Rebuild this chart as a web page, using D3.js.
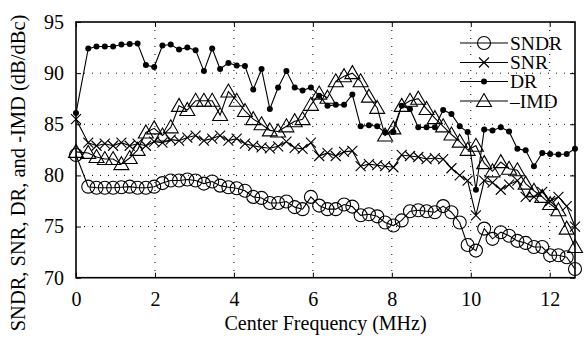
<!DOCTYPE html>
<html><head><meta charset="utf-8">
<script src="https://cdn.jsdelivr.net/npm/d3@7/dist/d3.min.js"></script>
<style>
html,body{margin:0;padding:0;background:#fff;}
svg text{font-family:"Liberation Serif","Times New Roman",serif;fill:#000;}
</style></head>
<body>
<svg id="chart" width="584" height="339"></svg>
<script>
const freq = [0, 0.31, 0.52, 0.73, 0.94, 1.15, 1.36, 1.56, 1.77, 1.98, 2.19, 2.40, 2.61, 2.82, 3.03, 3.24, 3.45, 3.65, 3.86, 4.07, 4.28, 4.49, 4.70, 4.91, 5.12, 5.33, 5.54, 5.74, 5.95, 6.16, 6.37, 6.58, 6.79, 7.00, 7.21, 7.42, 7.63, 7.83, 8.04, 8.25, 8.46, 8.67, 8.88, 9.09, 9.30, 9.51, 9.72, 9.92, 10.13, 10.34, 10.55, 10.76, 10.97, 11.18, 11.39, 11.60, 11.81, 12.01, 12.22, 12.43, 12.64];
const sndr = [82.0, 78.9, 78.8, 78.8, 78.8, 78.85, 78.9, 78.8, 78.8, 78.9, 79.25, 79.5, 79.5, 79.6, 79.5, 79.2, 79.4, 79.0, 78.85, 78.75, 78.5, 77.9, 77.8, 77.3, 77.3, 77.45, 76.9, 76.7, 77.9, 77.05, 76.7, 76.7, 77.15, 76.95, 76.1, 76.2, 76.0, 75.4, 75.1, 75.6, 76.5, 76.6, 76.5, 76.4, 77.0, 76.4, 75.4, 73.2, 72.65, 74.8, 73.8, 74.45, 74.1, 73.6, 73.4, 73.0, 73.0, 72.2, 72.2, 72.0, 70.85];
const snr = [85.5, 83.2, 82.9, 83.1, 82.9, 83.2, 82.9, 83.1, 82.9, 83.3, 83.2, 83.5, 83.4, 83.7, 83.9, 83.4, 83.6, 83.9, 83.4, 83.6, 83.1, 82.9, 82.75, 82.65, 82.85, 83.3, 82.7, 82.6, 83.2, 81.9, 82.2, 81.9, 82.3, 82.4, 80.9, 81.1, 81.0, 80.9, 80.8, 82.0, 81.9, 81.8, 81.6, 81.7, 81.6, 80.7, 80.0, 79.5, 76.1, 79.5, 79.3, 78.6, 79.1, 79.5, 77.9, 77.9, 78.4, 77.5, 77.9, 77.0, 75.0];
const dr = [86.1, 92.4, 92.6, 92.6, 92.6, 92.8, 92.85, 92.9, 90.8, 90.6, 92.7, 92.8, 92.3, 92.5, 92.25, 90.2, 92.4, 90.4, 91.0, 90.75, 90.7, 88.4, 90.4, 86.5, 88.6, 90.2, 88.6, 88.3, 88.6, 87.8, 86.8, 86.9, 86.9, 87.9, 84.8, 84.9, 84.8, 84.2, 84.25, 86.8, 86.5, 84.7, 84.7, 84.7, 86.4, 86.0, 84.8, 84.25, 78.6, 84.5, 84.4, 84.7, 84.3, 82.6, 82.45, 80.9, 82.2, 82.1, 82.05, 82.1, 82.6];
const imd = [82.3, 82.2, 81.8, 81.6, 81.6, 81.1, 81.7, 82.5, 84.2, 84.6, 83.9, 84.7, 86.8, 86.4, 87.3, 87.3, 87.3, 85.9, 88.2, 87.3, 86.3, 85.5, 85.0, 84.4, 84.3, 84.8, 85.3, 85.5, 86.9, 88.0, 87.6, 89.2, 89.7, 90.0, 89.2, 87.7, 86.6, 83.9, 84.6, 86.8, 87.3, 87.5, 86.5, 85.6, 84.8, 84.0, 83.3, 82.5, 82.9, 81.2, 80.4, 81.3, 80.65, 80.5, 79.2, 78.5, 77.9, 77.2, 76.6, 74.8, 73.0];
const seriesNames = ["SNDR", "SNR", "DR", "\u2013IMD"];
const markerTypes = ["circle", "cross", "dot", "triangle"];
const xTicks = [0, 2, 4, 6, 8, 10, 12];
const yTicks = [70, 75, 80, 85, 90, 95];
const xDomain = [0, 12.64];
const yDomain = [70, 95];
const xLabel = "Center Frequency (MHz)";
const yLabel = "SNDR, SNR, DR, and -IMD (dB/dBc)";

const svg = d3.select("#chart");
const L = 76, R = 575, T = 22, B = 277.7;
const x = d3.scaleLinear().domain(xDomain).range([L, R]);
const y = d3.scaleLinear().domain(yDomain).range([B, T]);

// grid
const grid = svg.append("g").attr("stroke", "#000").attr("stroke-width", 1).attr("stroke-dasharray", "1,7");
grid.selectAll(".gx").data(xTicks.filter(d => d > xDomain[0] && d < xDomain[1])).enter().append("line")
  .attr("x1", d => x(d)).attr("x2", d => x(d)).attr("y1", T).attr("y2", B);
grid.selectAll(".gy").data(yTicks.filter(d => d > yDomain[0] && d < yDomain[1])).enter().append("line")
  .attr("y1", d => y(d)).attr("y2", d => y(d)).attr("x1", L).attr("x2", R);

// axes with inward ticks
const fontSize = 20;
const axB = svg.append("g").attr("transform", `translate(0,${B})`)
  .call(d3.axisBottom(x).tickValues(xTicks).tickSizeInner(-5).tickSizeOuter(0).tickPadding(14).tickFormat(d3.format("d")));
const axT = svg.append("g").attr("transform", `translate(0,${T})`)
  .call(d3.axisTop(x).tickValues(xTicks).tickSizeInner(-5).tickSizeOuter(0).tickFormat(""));
const axL = svg.append("g").attr("transform", `translate(${L},0)`)
  .call(d3.axisLeft(y).tickValues(yTicks).tickSizeInner(-5).tickSizeOuter(0).tickPadding(12).tickFormat(d3.format("d")));
const axR = svg.append("g").attr("transform", `translate(${R},0)`)
  .call(d3.axisRight(y).tickValues(yTicks).tickSizeInner(-5).tickSizeOuter(0).tickFormat(""));
[axB, axT, axL, axR].forEach(a => {
  a.select(".domain").remove();
  a.selectAll(".tick line").attr("stroke", "#000").attr("stroke-width", 1);
  a.selectAll("text").style("font-family", "Liberation Serif, serif").style("font-size", fontSize + "px").attr("fill", "#000");
});
axB.selectAll("text").attr("dy", "0.71em");

// frame
svg.append("rect").attr("x", L).attr("y", T).attr("width", R - L).attr("height", B - T)
  .attr("fill", "none").attr("stroke", "#000").attr("stroke-width", 1.6);

// labels
svg.append("text").attr("x", (L + R) / 2).attr("y", 330).attr("text-anchor", "middle")
  .style("font-size", fontSize + "px").text(xLabel);
svg.append("text").attr("transform", "translate(25,173) rotate(-90)").attr("text-anchor", "middle")
  .style("font-size", "20.5px").text(yLabel);

// markers
function drawMarker(g, type) {
  if (type === "circle") g.append("circle").attr("r", 6.5).attr("fill", "none").attr("stroke", "#000").attr("stroke-width", 1.1);
  else if (type === "cross") g.append("path").attr("d", "M-5,-5L5,5M-5,5L5,-5").attr("stroke", "#000").attr("stroke-width", 1.1).attr("fill", "none");
  else if (type === "dot") g.append("circle").attr("r", 3).attr("fill", "#000");
  else if (type === "triangle") g.append("path").attr("d", "M0,-7.5L7.5,5.5L-7.5,5.5Z").attr("fill", "none").attr("stroke", "#000").attr("stroke-width", 1.1);
}

const allSeries = [sndr, snr, dr, imd];
const line = d3.line().x((d, i) => x(freq[i])).y(d => y(d));
allSeries.forEach((vals, si) => {
  const g = svg.append("g");
  g.append("path").datum(vals).attr("d", line).attr("fill", "none").attr("stroke", "#000").attr("stroke-width", 1.1);
  g.selectAll(".m").data(vals).enter().append("g")
    .attr("transform", (d, i) => `translate(${x(freq[i])},${y(d)})`)
    .each(function () { drawMarker(d3.select(this), markerTypes[si]); });
});

// legend
const legY = [43, 62.5, 81.5, 101];
const leg = svg.append("g");
seriesNames.forEach((name, i) => {
  const row = leg.append("g").attr("transform", `translate(0,${legY[i]})`);
  row.append("line").attr("x1", 460).attr("x2", 508).attr("y1", 0).attr("y2", 0).attr("stroke", "#000").attr("stroke-width", 1.1);
  const m = row.append("g").attr("transform", "translate(484,0)");
  drawMarker(m, markerTypes[i]);
  row.append("text").attr("x", 510).attr("y", 0).attr("dy", "0.35em").style("font-size", "19.5px").text(name);
});
</script>
</body></html>
